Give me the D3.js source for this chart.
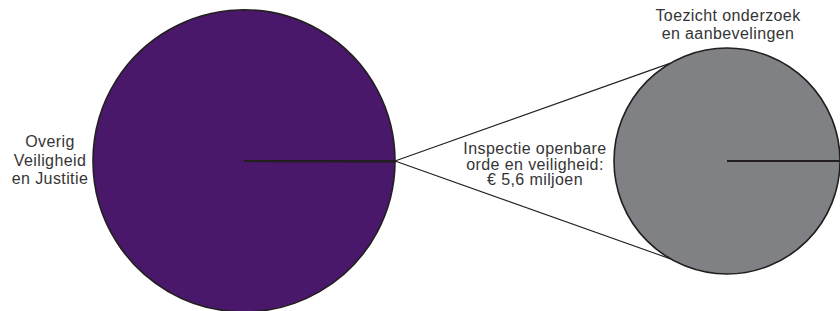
<!DOCTYPE html>
<html>
<head>
<meta charset="utf-8">
<script src="https://cdn.jsdelivr.net/npm/d3@7"></script>
<style>
  html, body { margin: 0; padding: 0; background: #fff; }
  svg { display: block; }
  text { font-family: "Liberation Sans", Arial, sans-serif; font-size: 16px; fill: #353535; letter-spacing: 0.4px; }
</style>
</head>
<body>
<svg id="chart" width="840" height="311"></svg>
<script>
// Budget Veiligheid en Justitie (mln euro), split out the inspection slice
var mainCategories = ['Inspectie openbare orde en veiligheid', 'Overig Veiligheid en Justitie']
  , mainValues = [5.6, 11900]
  , mainColors = ['#4a186a', '#4a186a']

// Detail pie: the inspection budget itself
var detailCategories = ['Toezicht onderzoek en aanbevelingen']
  , detailValues = [5.6]
  , detailColors = ['#808184']

var mainLabel = ['Overig', 'Veiligheid', 'en Justitie']
  , sliceLabel = ['Inspectie openbare', 'orde en veiligheid:', '€ 5,6 miljoen']
  , detailLabel = ['Toezicht onderzoek', 'en aanbevelingen']

var svg = d3.select('#chart')
  , stroke = '#231f20'

var main = { cx: 244, cy: 161, r: 151 }
  , detail = { cx: 727, cy: 161, r: 113 }

// both pies start at 3 o'clock
var pie = d3.pie().sort(null).startAngle(Math.PI / 2).endAngle(Math.PI / 2 + 2 * Math.PI)

var drawPie = function(cfg, values, colors) {
  var g = svg.append('g').attr('transform', 'translate(' + cfg.cx + ',' + cfg.cy + ')')
    , arc = d3.arc().innerRadius(0).outerRadius(cfg.r)
    , slices = pie(values)
  g.selectAll('path').data(slices).enter().append('path')
    .attr('d', arc)
    .attr('fill', function(d, i) { return colors[i] })
    .attr('stroke', stroke)
    .attr('stroke-width', 1.6)
  // slice boundaries as radial lines
  g.selectAll('line.edge').data(slices).enter().append('line')
    .attr('class', 'edge')
    .attr('x1', 0).attr('y1', 0)
    .attr('x2', function(d) { return d3.pointRadial(d.startAngle, cfg.r)[0] })
    .attr('y2', function(d) { return d3.pointRadial(d.startAngle, cfg.r)[1] })
    .attr('stroke', stroke)
    .attr('stroke-width', 2.2)
  return slices
}

var mainSlices = drawPie(main, mainValues, mainColors)
drawPie(detail, detailValues, detailColors)

// connector lines from the small slice to the detail pie
var apex = d3.pointRadial(mainSlices[0].startAngle, main.r)
  , targets = [-Math.PI / 6, -5 * Math.PI / 6]
svg.append('g').selectAll('line').data(targets).enter().append('line')
  .attr('x1', main.cx + apex[0])
  .attr('y1', main.cy + apex[1])
  .attr('x2', function(a) { return detail.cx + d3.pointRadial(a, detail.r)[0] })
  .attr('y2', function(a) { return detail.cy + d3.pointRadial(a, detail.r)[1] })
  .attr('stroke', stroke)
  .attr('stroke-width', 1.1)

var label = function(lines, x, y, lh) {
  svg.append('text')
    .attr('text-anchor', 'middle')
    .selectAll('tspan').data(lines).enter().append('tspan')
    .attr('x', x)
    .attr('y', function(d, i) { return y + i * lh })
    .text(function(d) { return d })
}

label(mainLabel, 50, 147, 18.7)
label(sliceLabel, 535, 154, 15.6)
label(detailLabel, 728, 21, 17.6)
</script>
</body>
</html>
